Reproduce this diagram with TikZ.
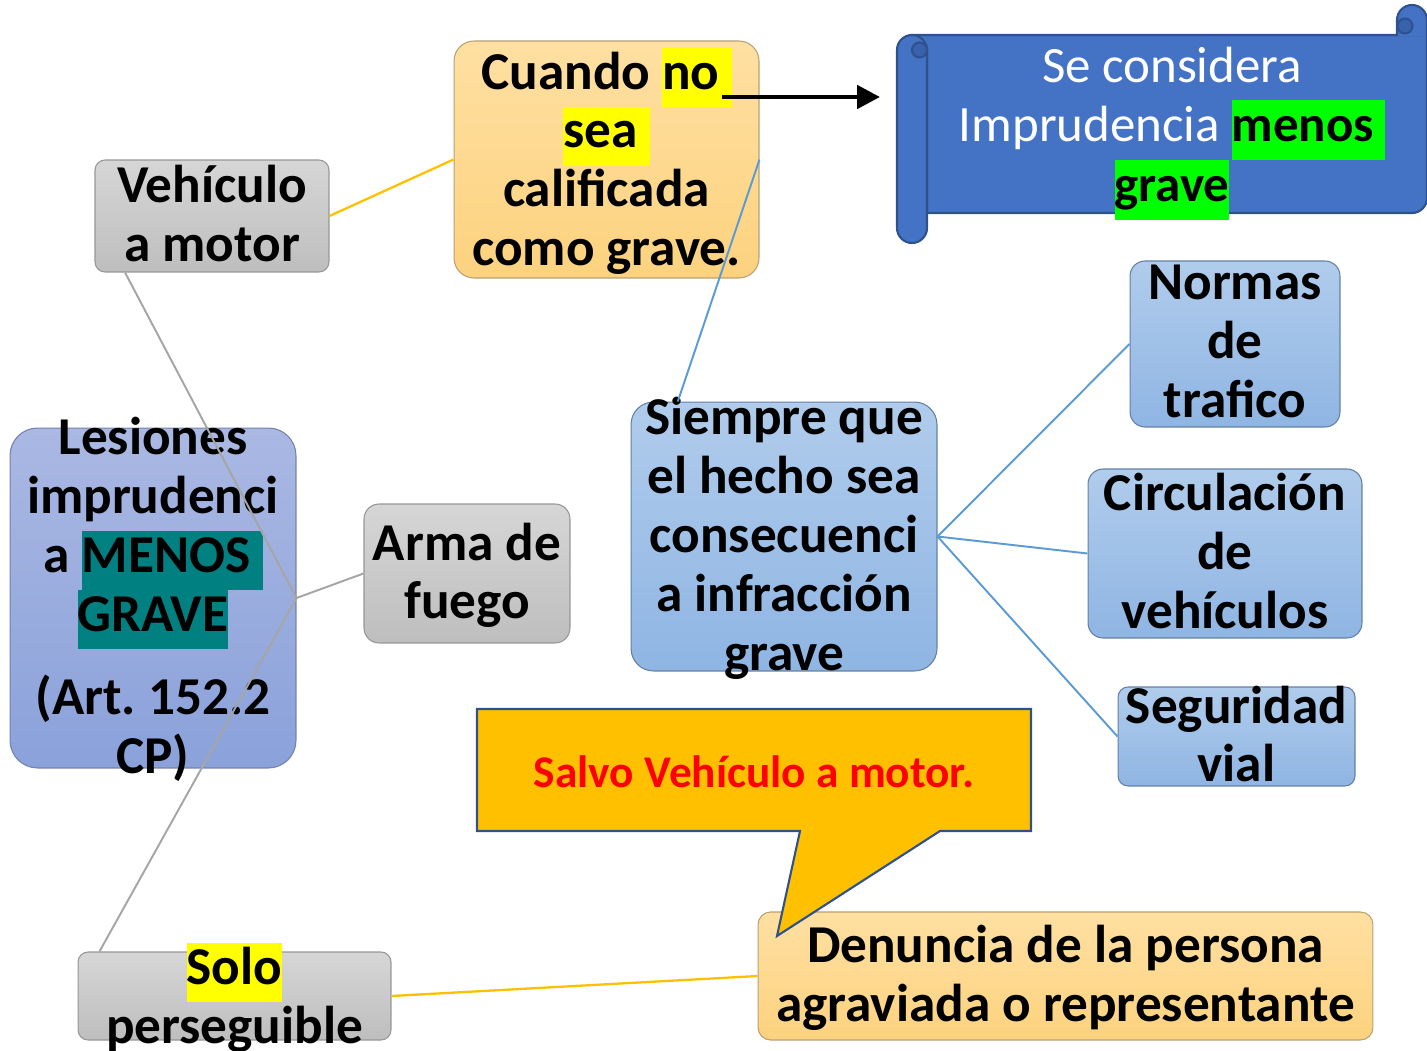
\documentclass[tikz,border=0pt]{standalone}
\usepackage{fontspec}
\setmainfont{Carlito}
\usepackage{tikz}
\usetikzlibrary{calc,arrows.meta}

\definecolor{graytop}{RGB}{214,214,214}
\definecolor{graybot}{RGB}{190,190,190}
\definecolor{grayedge}{RGB}{150,150,150}
\definecolor{orgtop}{RGB}{255,224,162}
\definecolor{orgbot}{RGB}{252,210,126}
\definecolor{orgedge}{RGB}{185,160,115}
\definecolor{lestop}{RGB}{170,184,227}
\definecolor{lesbot}{RGB}{138,161,218}
\definecolor{lesedge}{RGB}{115,130,170}
\definecolor{bltop}{RGB}{176,204,236}
\definecolor{blbot}{RGB}{143,181,227}
\definecolor{bledge}{RGB}{100,128,165}
\definecolor{linegray}{RGB}{165,165,165}
\definecolor{lineorg}{RGB}{255,192,0}
\definecolor{lineblue}{RGB}{91,155,213}
\definecolor{scrollfill}{RGB}{68,114,196}
\definecolor{scrolledge}{RGB}{47,82,143}
\definecolor{scrolldark}{RGB}{56,98,172}
\definecolor{hlyellow}{RGB}{255,255,0}
\definecolor{hlgreen}{RGB}{0,255,0}
\definecolor{hlteal}{RGB}{0,128,128}

\newcommand{\hlbox}[2]{{\setlength{\fboxsep}{0pt}\colorbox{#1}{\strut#2}}}

\begin{document}
\frenchspacing
\begin{tikzpicture}[x=0.02cm, y=-0.02cm,
  box/.style={inner sep=0pt, line width=0.6pt, rounded corners=0.3cm},
  graybox/.style={box, draw=grayedge, top color=graytop, bottom color=graybot},
  orgbox/.style={box, draw=orgedge, top color=orgtop, bottom color=orgbot},
  lesbox/.style={box, draw=lesedge, top color=lestop, bottom color=lesbot},
  blbox/.style={box, draw=bledge, top color=bltop, bottom color=blbot},
  txt/.style={align=center, inner sep=0pt, yshift=-3.5pt, font=\fontsize{30.3}{33.5}\selectfont\bfseries,
    execute at begin node=\strut, execute at end node=\strut},
  scroll/.style={fill=scrollfill, draw=scrolledge, line width=1.2pt},
  curl/.style={fill=scrolldark, draw=scrolledge, line width=1.2pt},
  grayline/.style={draw=linegray, line width=1.1pt},
  orgline/.style={draw=lineorg, line width=1.3pt},
  blueline/.style={draw=lineblue, line width=1.1pt},
  bigarrow/.style={line width=2.8pt, -{Triangle[length=13pt, width=13pt]}}]
\useasboundingbox (0,0) rectangle (1427,1051);
\begin{scope}[shift={(0,0)}]
\node[graybox, minimum width=4.68cm, minimum height=2.24cm, rounded corners=0.2cm] (veh) at (212,216) {};
\node[orgbox, minimum width=6.1cm, minimum height=4.74cm, rounded corners=0.4cm] (cuando) at (606.5,159.5) {};
\node[lesbox, minimum width=5.72cm, minimum height=6.8cm, rounded corners=0.55cm] (les) at (153,598) {};
\node[graybox, minimum width=4.12cm, minimum height=2.78cm] (arma) at (467,573.5) {};
\node[blbox, minimum width=6.12cm, minimum height=5.38cm, rounded corners=0.45cm] (siempre) at (784,536.5) {};
\node[blbox, minimum width=4.2cm, minimum height=3.32cm] (normas) at (1235,344) {};
\node[blbox, minimum width=5.48cm, minimum height=3.38cm] (circ) at (1225,553.5) {};
\node[blbox, minimum width=4.74cm, minimum height=1.98cm, rounded corners=0.2cm] (seg) at (1236.5,736.5) {};
\node[orgbox, minimum width=12.3cm, minimum height=2.56cm, rounded corners=0.25cm] (den) at (1065.5,976) {};
\node[graybox, minimum width=6.26cm, minimum height=1.76cm, rounded corners=0.2cm] (solo) at (234.5,996) {};

\filldraw[scroll] (912,35) -- (1427,35) -- (1427,198) arc[start angle=0, end angle=-90, radius=0.3cm] -- (912,213) -- cycle;
\filldraw[scroll] (1397,36) -- (1397,20) arc[start angle=180, end angle=0, radius=0.3cm] -- (1427,36);
\filldraw[curl] (1405,26) circle[radius=0.15cm];
\filldraw[scroll] (927,50) -- (927,228) arc[start angle=0, end angle=-180, radius=0.3cm] -- (897,50) arc[start angle=180, end angle=0, radius=0.3cm] -- cycle;
\filldraw[curl] (919.5,50) circle[radius=0.15cm];

\filldraw[fill=lineorg, draw=scrolledge, line width=1.2pt] (477,709) -- (1031,709) -- (1031,831) -- (940,831) -- (777,936) -- (800,831) -- (477,831) -- cycle;

\node[txt] (vehtxt) at (veh) {Vehículo\\a motor};
\node[txt] (cuandotxt) at (cuando) {Cuando \hlbox{hlyellow}{no\ }\\\hlbox{hlyellow}{sea\ }\\calificada\\como grave.};
\node[txt] (lestxt) at (les) {Lesiones\\imprudenci\\a \hlbox{hlteal}{MENOS\ }\\\hlbox{hlteal}{GRAVE}\\[14pt](Art.\ 152.2\\CP)};
\node[txt] (armatxt) at (arma) {Arma de\\fuego};
\node[txt] (siempretxt) at (siempre) {Siempre que\\el hecho sea\\consecuenci\\a infracción\\grave};
\node[txt] (normastxt) at (normas) {Normas\\de\\trafico};
\node[txt] (circtxt) at (circ) {Circulación\\de\\vehículos};
\node[txt] (segtxt) at (seg) {Seguridad\\vial};
\node[txt] (dentxt) at (den) {Denuncia de la persona\\agraviada o representante};
\node[txt] (solotxt) at (solo) {\hlbox{hlyellow}{Solo}\\perseguible};
\node[txt, font=\fontsize{29}{34}\selectfont] (scrolltxt) at (1172,127) {{\color{white}Se considera}\\{\color{white}Imprudencia }\hlbox{hlgreen}{\bfseries menos\ }\\\hlbox{hlgreen}{\bfseries grave}};
\node[inner sep=0pt, font=\fontsize{25.8}{30}\selectfont\bfseries, text=red] (salvo) at (754,772) {Salvo Vehículo a motor.};

\draw[grayline] (les.east) -- ($(veh.south west)!0.13!(veh.south east)$);
\draw[grayline] (les.east) -- (arma.west);
\draw[grayline] (les.east) -- ($(solo.north west)!0.07!(solo.north east)$);
\draw[orgline] (veh.east) -- (cuando.west);
\draw[orgline] (solo.east) -- (den.west);
\draw[blueline] (cuando.east) -- ($(siempre.north west)!0.154!(siempre.north east)$);
\draw[blueline] (siempre.east) -- (normas.west);
\draw[blueline] (siempre.east) -- (circ.west);
\draw[blueline] (siempre.east) -- (seg.west);

\coordinate (tail) at (722,97);
\coordinate (tip) at (880,97);
\draw[bigarrow] (tail) -- (tip);
\end{scope}
\end{tikzpicture}
\end{document}
